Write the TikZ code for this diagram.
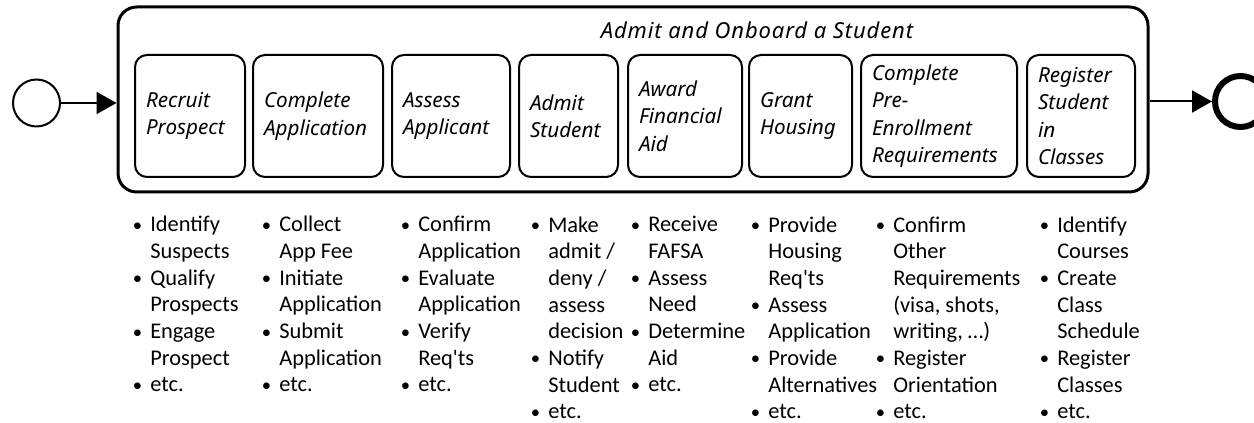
\documentclass[tikz,border=0pt]{standalone}
\usepackage{fontspec}
\newfontfamily\boxfont{Noto Sans}
\newfontfamily\listfont{Carlito}[Ligatures=TeXOff]
\usetikzlibrary{arrows.meta}
\newcommand\itembul{\makebox[13pt][l]{\raisebox{0.3pt}{\fontsize{14}{14}\selectfont •}}}
\newcommand\itemcont{\hspace*{13pt}}
\begin{document}
\begin{tikzpicture}[x=0.75pt,y=-0.75pt,
  task/.style={draw, line width=1.5pt, rounded corners=9pt, minimum height=91.5pt,
    inner xsep=8.25pt, inner ysep=0pt, align=left,
    font=\boxfont\itshape\fontsize{15.5}{20.5}\selectfont},
  outerbox/.style={draw, line width=2.25pt, rounded corners=14pt, minimum width=772.5pt,
    minimum height=138.75pt, inner sep=0pt},
  listcol/.style={anchor=base west, inner sep=0pt, align=left,
    font=\listfont\fontsize{16.8}{20}\selectfont},
  flow/.style={line width=1.5pt, -{Triangle[length=15pt,width=16.5pt]}},
  titletext/.style={inner sep=0pt, font=\boxfont\itshape\fontsize{16.5}{20}\selectfont\addfontfeature{LetterSpace=4}}
]
\useasboundingbox (0,0) rectangle (1254,423);
\node[outerbox] (sub) at (633,99.5) {};
\node[titletext] (title) at (757,30) {Admit and Onboard a Student};
\node[draw, circle, line width=1.5pt, minimum size=35.25pt, inner sep=0pt] (start) at (36.5,103) {};
\node[draw, circle, line width=4.5pt, minimum size=38.25pt, inner sep=0pt] (endev) at (1240.5,101.5) {};
\draw[flow] (start.east) -- (start.east -| sub.west);
\draw[flow] (sub.east |- endev.west) -- (endev.west);

\node[task, text width=66pt] (t1) at (190,116) {Recruit\\Prospect};
\node[task, text width=81pt] (t2) at (318,116) {Complete\\Application};
\node[task, text width=72pt] (t3) at (451,116) {Assess\\Applicant};
\node[task, text width=57.75pt] (t4) at (568.5,116) {Admit\\Student};
\node[task, text width=69pt] (t5) at (685,116) {Award\\Financial\\Aid};
\node[task, text width=60.75pt] (t6) at (800.5,116) {Grant\\Housing};
\node[task, text width=100.5pt] (t7) at (939,116) {Complete\\Pre-\\Enrollment\\Requirements};
\node[task, text width=64.5pt] (t8) at (1081,116) {Register\\Student\\in\\Classes};

\node[listcol] (l1) at (132.7,392) {\itembul Identify\\\itemcont Suspects\\\itembul Qualify\\\itemcont Prospects\\\itembul Engage\\\itemcont Prospect\\\itembul etc.};
\node[listcol] (l2) at (261.7,392) {\itembul Collect\\\itemcont App Fee\\\itembul Initiate\\\itemcont Application\\\itembul Submit\\\itemcont Application\\\itembul etc.};
\node[listcol] (l3) at (400.7,392) {\itembul Confirm\\\itemcont Application\\\itembul Evaluate\\\itemcont Application\\\itembul Verify\\\itemcont Req'ts\\\itembul etc.};
\node[listcol] (l4) at (530.7,418.7) {\itembul Make\\\itemcont admit /\\\itemcont deny /\\\itemcont assess\\\itemcont decision\\\itembul Notify\\\itemcont Student\\\itembul etc.};
\node[listcol] (l5) at (630.7,392) {\itembul Receive\\\itemcont FAFSA\\\itembul Assess\\\itemcont Need\\\itembul Determine\\\itemcont Aid\\\itembul etc.};
\node[listcol] (l6) at (750.7,418.7) {\itembul Provide\\\itemcont Housing\\\itemcont Req'ts\\\itembul Assess\\\itemcont Application\\\itembul Provide\\\itemcont Alternatives\\\itembul etc.};
\node[listcol] (l7) at (875.7,418.7) {\itembul Confirm\\\itemcont Other\\\itemcont Requirements\\\itemcont (visa, shots,\\\itemcont writing, …)\\\itembul Register\\\itemcont Orientation\\\itembul etc.};
\node[listcol] (l8) at (1039.7,418.7) {\itembul Identify\\\itemcont Courses\\\itembul Create\\\itemcont Class\\\itemcont Schedule\\\itembul Register\\\itemcont Classes\\\itembul etc.};
\end{tikzpicture}
\end{document}
